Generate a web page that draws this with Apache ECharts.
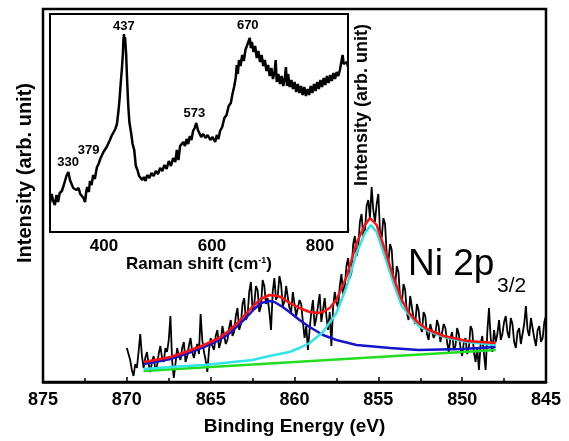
<!DOCTYPE html>
<html lang="en">
<head>
  <meta charset="UTF-8">
  <title>Ni 2p3/2 XPS with Raman inset</title>
  <script src="https://cdn.jsdelivr.net/npm/echarts@6/dist/echarts.min.js"></script>
  <style>
    html, body { margin: 0; padding: 0; background: #fff; }
    #main { width: 569px; height: 441px; }
  </style>
</head>
<body>
  <div id="main"></div>
<script>
  // XPS Ni 2p3/2 raw spectrum: [binding energy (eV), intensity (arb.)]
  let xpsRaw = [
    [870.0, 34], [869.9, 28], [869.8, 22], [869.7, 12], [869.6, 6], [869.5, 18], [869.4, 14], [869.3, 30],
    [869.2, 48], [869.1, 26], [869.0, 14], [868.9, 24], [868.8, 30], [868.7, 18], [868.6, 10], [868.5, 20],
    [868.4, 26], [868.3, 12], [868.2, 16], [868.1, 28], [868.0, 36], [867.9, 24], [867.8, 20], [867.7, 34],
    [867.6, 30], [867.5, 42], [867.4, 66], [867.3, 22], [867.2, 4], [867.1, 18], [867.0, 34], [866.9, 26],
    [866.8, 22], [866.7, 34], [866.6, 40], [866.5, 20], [866.4, 26], [866.3, 36], [866.2, 44], [866.1, 30],
    [866.0, 24], [865.9, 32], [865.8, 38], [865.7, 28], [865.6, 68], [865.5, 42], [865.4, 30], [865.3, 22],
    [865.2, 10], [865.1, 32], [865.0, 44], [864.9, 36], [864.8, 32], [864.7, 46], [864.6, 52], [864.5, 34],
    [864.4, 40], [864.3, 56], [864.2, 58], [864.1, 38], [864.0, 42], [863.9, 54], [863.8, 62], [863.7, 46],
    [863.6, 50], [863.5, 66], [863.4, 74], [863.3, 52], [863.2, 58], [863.1, 78], [863.0, 84], [862.9, 62],
    [862.8, 66], [862.7, 90], [862.6, 100], [862.5, 72], [862.4, 78], [862.3, 96], [862.2, 92], [862.1, 70],
    [862.0, 76], [861.9, 102], [861.8, 96], [861.7, 78], [861.6, 84], [861.5, 70], [861.4, 52], [861.3, 90],
    [861.2, 104], [861.1, 82], [861.0, 86], [860.9, 106], [860.8, 98], [860.7, 76], [860.6, 80], [860.5, 96],
    [860.4, 94], [860.3, 74], [860.2, 70], [860.1, 90], [860.0, 88], [859.9, 66], [859.8, 64], [859.7, 82],
    [859.6, 78], [859.5, 60], [859.4, 44], [859.3, 56], [859.2, 32], [859.1, 52], [859.0, 70], [858.9, 82],
    [858.8, 56], [858.7, 64], [858.6, 76], [858.5, 88], [858.4, 60], [858.3, 72], [858.2, 84], [858.1, 66],
    [858.0, 52], [857.9, 70], [857.8, 36], [857.7, 74], [857.6, 90], [857.5, 80], [857.4, 74], [857.3, 96],
    [857.2, 108], [857.1, 88], [857.0, 96], [856.9, 116], [856.8, 124], [856.7, 104], [856.6, 110], [856.5, 138],
    [856.4, 146], [856.3, 126], [856.2, 134], [856.1, 160], [856.0, 168], [855.9, 146], [855.8, 150], [855.7, 176],
    [855.6, 182], [855.5, 164], [855.4, 195], [855.3, 172], [855.2, 160], [855.1, 178], [855.0, 188], [854.9, 150],
    [854.8, 144], [854.7, 164], [854.6, 158], [854.5, 128], [854.4, 120], [854.3, 138], [854.2, 132], [854.1, 104],
    [854.0, 96], [853.9, 116], [853.8, 110], [853.7, 84], [853.6, 78], [853.5, 98], [853.4, 92], [853.3, 70],
    [853.2, 62], [853.1, 86], [853.0, 84], [852.9, 64], [852.8, 58], [852.7, 78], [852.6, 72], [852.5, 56],
    [852.4, 50], [852.3, 70], [852.2, 66], [852.1, 48], [852.0, 42], [851.9, 58], [851.8, 60], [851.7, 44],
    [851.6, 48], [851.5, 62], [851.4, 56], [851.3, 40], [851.2, 38], [851.1, 58], [851.0, 54], [850.9, 40],
    [850.8, 30], [850.7, 44], [850.6, 50], [850.5, 32], [850.4, 36], [850.3, 54], [850.2, 48], [850.1, 34],
    [850.0, 26], [849.9, 40], [849.8, 44], [849.7, 28], [849.6, 34], [849.5, 56], [849.4, 52], [849.3, 30],
    [849.2, 20], [849.1, 34], [849.0, 12], [848.9, 38], [848.8, 46], [848.7, 28], [848.6, 12], [848.5, 50],
    [848.4, 74], [848.3, 44], [848.2, 30], [848.1, 52], [848.0, 40], [847.9, 48], [847.8, 62], [847.7, 42],
    [847.6, 48], [847.5, 60], [847.4, 66], [847.3, 50], [847.2, 44], [847.1, 64], [847.0, 58], [846.9, 40],
    [846.8, 34], [846.7, 50], [846.6, 54], [846.5, 38], [846.4, 40], [846.3, 58], [846.2, 76], [846.1, 52],
    [846.0, 46], [845.9, 64], [845.8, 62], [845.7, 44], [845.6, 36], [845.5, 52], [845.4, 56], [845.3, 40],
    [845.2, 44], [845.1, 60], [845.0, 66]
  ]

  // fitted envelope (red)
  let fitSum = [
    [869.0, 20], [868.0, 23], [867.4, 25], [866.5, 30], [865.4, 37], [864.5, 44], [864.0, 50], [863.4, 59],
    [862.85, 69], [862.4, 77], [862.0, 83], [861.5, 87], [861.0, 86], [860.7, 84], [860.3, 79], [859.7, 74],
    [859.1, 70], [858.6, 69], [858.3, 70], [857.9, 74], [857.5, 82], [856.9, 105], [856.3, 139], [855.8, 157],
    [855.5, 164], [855.1, 157], [854.6, 132], [854.1, 105], [853.6, 82], [853.2, 70], [852.9, 64], [852.6, 59],
    [852.1, 53], [851.1, 46], [849.7, 41], [848.0, 39]
  ]

  // satellite component (blue)
  let fitPeakSat = [
    [869.0, 18], [868.0, 21], [867.4, 23], [866.5, 28], [865.4, 35], [864.5, 42], [864.0, 47], [863.4, 56],
    [862.85, 65], [862.4, 73], [862.0, 79], [861.5, 81], [861.2, 80], [860.7, 75], [860.3, 70], [859.7, 62],
    [859.1, 55], [858.3, 47], [857.5, 42], [856.3, 37], [854.3, 34], [852.6, 32], [850.0, 33], [848.0, 35]
  ]

  // main component (cyan)
  let fitPeakMain = [
    [869.0, 13], [866.5, 16], [865.4, 17], [862.5, 22], [861.5, 26], [860.3, 30], [859.7, 34], [859.1, 39],
    [858.3, 50], [857.5, 69], [856.9, 95], [856.3, 129], [855.8, 149], [855.45, 157], [855.1, 150], [854.6, 125],
    [854.1, 99], [853.6, 76], [852.9, 62], [852.6, 56], [852.1, 52], [851.1, 45], [849.7, 40], [848.0, 37]
  ]

  // background (green)
  let fitBackground = [[869.0, 11], [848.0, 32]]

  // inset Raman spectrum: [Raman shift (cm-1), intensity (arb.)]
  let ramanData = [
    [300, 29], [303, 38], [306, 31], [309, 27], [312, 37], [315, 30], [318, 39], [322, 41], [325, 46], [328, 48],
    [331, 57], [334, 60], [337, 52], [340, 51], [343, 44], [346, 46], [349, 42], [353, 44], [356, 38], [359, 40],
    [362, 34], [365, 30], [367, 40], [369, 45], [372, 40], [374, 51], [377, 47], [380, 57], [383, 53], [387, 65],
    [390, 68], [393, 73], [396, 75], [399, 80], [402, 80], [405, 85], [408, 84], [411, 92], [414, 96], [417, 94],
    [421, 103], [424, 108], [427, 122], [429, 134], [431, 149], [433, 162], [435, 178], [436, 192], [437, 198], [438, 186],
    [439, 195], [441, 178], [443, 150], [445, 126], [447, 110], [450, 100], [453, 88], [456, 82], [459, 66], [462, 62],
    [465, 56], [468, 58], [471, 52], [474, 55], [477, 51], [480, 57], [484, 54], [488, 59], [492, 56], [496, 61],
    [500, 58], [504, 64], [508, 61], [512, 67], [516, 63], [520, 71], [524, 66], [528, 74], [532, 70], [535, 82],
    [538, 72], [541, 86], [544, 84], [547, 90], [550, 86], [553, 93], [556, 88], [559, 96], [562, 92], [565, 101],
    [568, 104], [571, 109], [574, 102], [577, 100], [580, 95], [584, 98], [588, 94], [592, 97], [597, 92], [601, 95],
    [606, 90], [609, 97], [612, 93], [615, 101], [619, 105], [623, 114], [627, 117], [631, 126], [635, 129], [638, 138],
    [641, 145], [644, 154], [646, 167], [648, 158], [650, 172], [653, 166], [656, 177], [659, 171], [662, 182], [665, 183],
    [668, 191], [670, 194], [672, 184], [674, 190], [677, 180], [680, 186], [683, 174], [686, 181], [689, 170], [692, 177],
    [695, 166], [698, 172], [701, 161], [704, 167], [707, 156], [710, 164], [713, 153], [716, 160], [718, 172], [720, 150],
    [723, 158], [726, 148], [729, 156], [732, 146], [735, 154], [737, 165], [739, 146], [741, 158], [744, 145], [747, 152],
    [750, 143], [753, 150], [756, 140], [759, 148], [762, 139], [765, 146], [768, 137], [771, 145], [774, 136], [777, 143],
    [780, 137], [783, 146], [786, 139], [789, 148], [792, 141], [795, 150], [798, 143], [801, 152], [804, 145], [807, 154],
    [810, 147], [813, 156], [816, 149], [819, 157], [822, 151], [825, 159], [828, 153], [831, 160], [834, 156], [837, 162],
    [840, 161], [842, 177], [844, 168], [847, 166], [850, 170], [852, 165]
  ]

  // labelled Raman peaks: [shift, intensity at peak]
  let ramanPeaks = [[330, 59], [379, 56], [437, 197], [573, 108], [670, 193]]
  let ramanPeakOffsets = [[2, -2], [-4, -17], [0, 0], [-3, -2], [-2, -5]]
  let ramanTickLabels = [400, 600, 800]

  let font = 'Liberation Sans, Arial, sans-serif'
  let myChart = echarts.init(document.getElementById('main'))

  function lineSeries(data, color, width, z) {
    return {
      type: 'line',
      xAxisIndex: 0,
      yAxisIndex: 0,
      data: data,
      showSymbol: false,
      symbol: 'none',
      smooth: false,
      z: z,
      lineStyle: { color: color, width: width }
    }
  }

  let option = {
    animation: false,
    backgroundColor: '#fff',
    grid: [
      { left: 43, top: 9, width: 503, height: 373, show: true, borderColor: '#000', borderWidth: 2.5 },
      { left: 50, top: 14, width: 298, height: 218, show: true, borderColor: '#000', borderWidth: 2, backgroundColor: '#fff', z: 5 }
    ],
    xAxis: [{
      gridIndex: 0,
      type: 'value',
      inverse: true,
      min: 845,
      max: 875,
      interval: 5,
      axisLine: { show: true, lineStyle: { color: '#000', width: 2.5 } },
      axisTick: { show: true, inside: true, length: 5, lineStyle: { color: '#000', width: 1.5 } },
      minorTick: { show: true, splitNumber: 2, length: 4, lineStyle: { color: '#000', width: 1.5 } },
      splitLine: { show: false },
      axisLabel: { color: '#000', fontSize: 18, fontWeight: 'bold', fontFamily: font, margin: 9 },
      name: 'Binding Energy (eV)',
      nameLocation: 'middle',
      nameGap: 35,
      nameTextStyle: { color: '#000', fontSize: 19, fontWeight: 'bold', fontFamily: font }
    }, {
      gridIndex: 1,
      type: 'value',
      min: 300,
      max: 852,
      interval: 100,
      axisLine: { show: true, lineStyle: { color: '#000', width: 2 } },
      axisTick: { show: true, inside: true, length: 4, lineStyle: { color: '#000', width: 1.2 } },
      splitLine: { show: false },
      axisLabel: {
        color: '#000', fontSize: 17, fontWeight: 'bold', fontFamily: font, margin: 6,
        formatter: function (v) { return ramanTickLabels.indexOf(v) >= 0 ? String(v) : '' }
      },
      name: '{a|Raman shift (cm}{s|-1}{a|)}',
      nameLocation: 'middle',
      nameGap: 24,
      nameTextStyle: {
        rich: {
          a: { color: '#000', fontSize: 17, fontWeight: 'bold', fontFamily: font },
          s: { color: '#000', fontSize: 9, fontWeight: 'bold', fontFamily: font, verticalAlign: 'top', padding: [0, 0, 8, 0] }
        }
      }
    }],
    yAxis: [{
      gridIndex: 0,
      type: 'value',
      min: 0,
      max: 373,
      axisLine: { show: false },
      axisTick: { show: false },
      axisLabel: { show: false },
      splitLine: { show: false }
    }, {
      gridIndex: 1,
      type: 'value',
      min: 0,
      max: 218,
      axisLine: { show: false },
      axisTick: { show: false },
      axisLabel: { show: false },
      splitLine: { show: false }
    }],
    series: [
      lineSeries(xpsRaw, '#000', 1.8, 2),
      lineSeries(fitBackground, '#22dd22', 2.5, 3),
      lineSeries(fitPeakSat, '#1414cc', 2.5, 4),
      lineSeries(fitPeakMain, '#2ee4ea', 2.5, 5),
      lineSeries(fitSum, '#ff1010', 2.5, 6),
      {
        type: 'line',
        xAxisIndex: 1,
        yAxisIndex: 1,
        data: ramanData,
        showSymbol: false,
        symbol: 'none',
        z: 10,
        lineStyle: { color: '#000', width: 2.5 },
        markPoint: {
          symbol: 'circle',
          symbolSize: 1,
          itemStyle: { color: 'rgba(0,0,0,0)' },
          label: {
            show: true,
            position: 'top',
            distance: 2,
            color: '#000',
            fontSize: 13,
            fontWeight: 'bold',
            fontFamily: font,
            formatter: function (p) { return String(p.data.coord[0]) }
          },
          data: ramanPeaks.map(function (p, i) {
            return { coord: p, label: { offset: ramanPeakOffsets[i] } }
          })
        }
      }
    ],
    graphic: [
      {
        type: 'text', x: 25, y: 173, rotation: Math.PI / 2, z: 20,
        style: { text: 'Intensity (arb. unit)', fill: '#000', font: 'bold 20px ' + font, align: 'center', verticalAlign: 'middle' }
      },
      {
        type: 'text', x: 362, y: 105, rotation: Math.PI / 2, z: 20,
        style: { text: 'Intensity (arb. unit)', fill: '#000', font: 'bold 18px ' + font, align: 'center', verticalAlign: 'middle' }
      },
      {
        type: 'text', x: 408, y: 265, z: 20,
        style: { text: 'Ni 2p', fill: '#000', font: '37px ' + font, align: 'left', verticalAlign: 'middle' }
      },
      {
        type: 'text', x: 497, y: 286, z: 20,
        style: { text: '3/2', fill: '#000', font: '21px ' + font, align: 'left', verticalAlign: 'middle' }
      }
    ]
  }
  myChart.setOption(option)
</script>
</body>
</html>
